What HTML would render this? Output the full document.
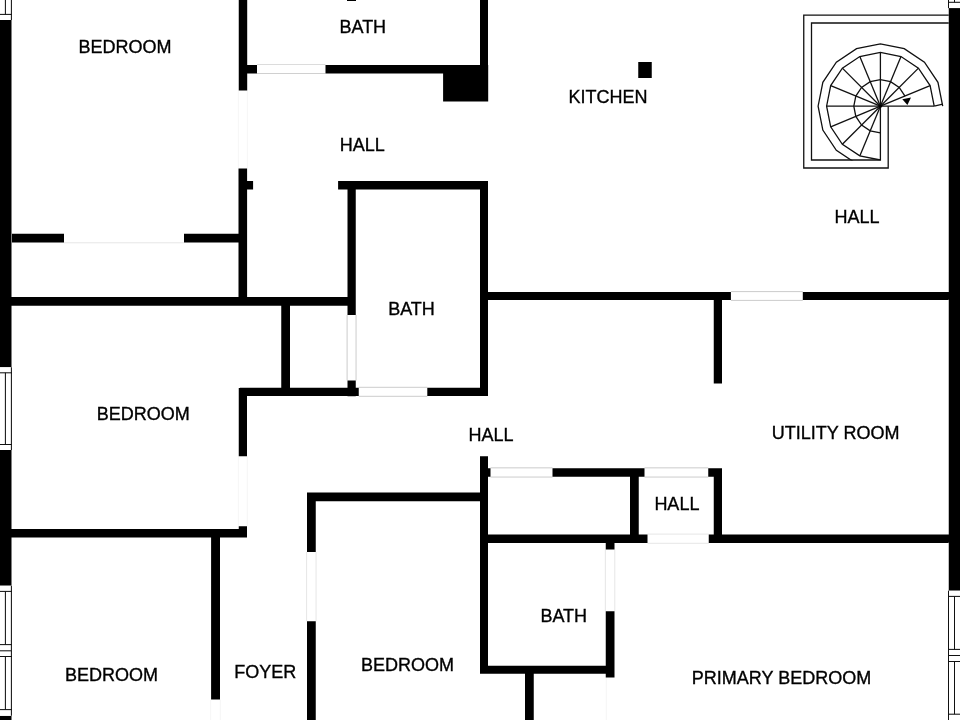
<!DOCTYPE html>
<html><head><meta charset="utf-8"><style>
html,body{margin:0;padding:0;background:#fff;}
svg{display:block;}
text{font-family:"Liberation Sans",sans-serif;font-size:18px;fill:#000;stroke:#000;stroke-width:0.35px;text-anchor:middle;}
.t{filter:url(#nf);}
.g line{stroke-width:1;}
.w{stroke:#111;stroke-width:1.05;}
.s{stroke:#111;stroke-width:1.3;fill:none;}
</style></head><body>
<svg width="960" height="720" viewBox="0 0 960 720">
<defs><filter id="nf" x="0" y="0" width="1" height="1"><feOffset dx="0" dy="0"/></filter><clipPath id="cl"><rect x="800" y="0" width="160" height="160.6"/></clipPath></defs>
<rect width="960" height="720" fill="#fff"/>
<g class="g">
<line x1="257" y1="64.5" x2="325.5" y2="64.5" stroke="#dcdcdc"/>
<line x1="257" y1="73.5" x2="325.5" y2="73.5" stroke="#d0d0d0"/>
<line x1="238.35" y1="90.4" x2="238.35" y2="168.4" stroke="#f6f6f6"/>
<line x1="247.4" y1="90.4" x2="247.4" y2="168.4" stroke="#f6f6f6"/>
<line x1="64" y1="242.8" x2="184" y2="242.8" stroke="#e6e6e6"/>
<line x1="347.1" y1="315" x2="347.1" y2="380.5" stroke="#cccccc"/>
<line x1="356.05" y1="315" x2="356.05" y2="380.5" stroke="#cccccc"/>
<line x1="358.75" y1="387.3" x2="427.3" y2="387.3" stroke="#cccccc"/>
<line x1="358.75" y1="396.3" x2="427.3" y2="396.3" stroke="#cccccc"/>
<line x1="730.9" y1="291.6" x2="802.8" y2="291.6" stroke="#cccccc"/>
<line x1="730.9" y1="300.4" x2="802.8" y2="300.4" stroke="#cccccc"/>
<line x1="238.35" y1="456.25" x2="238.35" y2="526" stroke="#f6f6f6"/>
<line x1="247.3" y1="456.25" x2="247.3" y2="526" stroke="#f6f6f6"/>
<line x1="306.6" y1="552" x2="306.6" y2="621.25" stroke="#e6e6e6"/>
<line x1="316.05" y1="552" x2="316.05" y2="621.25" stroke="#e6e6e6"/>
<line x1="490.5" y1="467.85" x2="552.5" y2="467.85" stroke="#cccccc"/>
<line x1="490.5" y1="477.05" x2="552.5" y2="477.05" stroke="#cccccc"/>
<line x1="644.5" y1="467.85" x2="708.25" y2="467.85" stroke="#cccccc"/>
<line x1="644.5" y1="477.05" x2="708.25" y2="477.05" stroke="#cccccc"/>
<line x1="647.5" y1="534.1" x2="708.75" y2="534.1" stroke="#e6e6e6"/>
<line x1="647.5" y1="543.3" x2="708.75" y2="543.3" stroke="#e6e6e6"/>
<line x1="605.35" y1="549.5" x2="605.35" y2="611.25" stroke="#e6e6e6"/>
<line x1="614.8" y1="549.5" x2="614.8" y2="611.25" stroke="#e6e6e6"/>
<line x1="606.3" y1="677.5" x2="606.3" y2="720" stroke="#f6f6f6"/>
<line x1="210.7" y1="699.6" x2="210.7" y2="720" stroke="#f6f6f6"/>
<line x1="220.3" y1="699.6" x2="220.3" y2="720" stroke="#f6f6f6"/>
</g>
<g fill="#000">
<path d="M0 20H11.5V367.3H0Z M0 450H11.5V585.7H0Z M0 715.8H11.5V720H0Z M948.75 8.1H960V590.7H948.75Z M238.75 0H247.2V90.4H238.75Z M238.75 65H257V73.4H238.75Z M325.5 65H488V73.4H325.5Z M480 0H488V101.5H480Z M443.1 65H488.2V101.6H443.1Z M638.25 62H651.75V78H638.25Z M347 0H356V1H347Z M238.5 168.4H247.1V305.75H238.5Z M247.1 180.9H253.1V189.6H247.1Z M12 233.75H64V242.5H12Z M184 233.75H247.1V242.5H184Z M0 297H355.75V305.75H0Z M338.1 180.9H488V189.4H338.1Z M347.5 181H355.75V315H347.5Z M347.5 380.5H355.75V396.25H347.5Z M480 181H488V395H480Z M240 387.7H358.75V396H240Z M427.3 387.7H488V396H427.3Z M281.25 305H290V388.75H281.25Z M488 292H730.9V300.1H488Z M802.8 292H948.75V300.1H802.8Z M713.75 292H722V383.4H713.75Z M238.75 388H247V456.25H238.75Z M238.75 526.2H247V537.5H238.75Z M11 529.1H247V537.5H11Z M211.1 537H220V699.6H211.1Z M307 492.5H315.75V552H307Z M307 621.25H315.75V720H307Z M307 492.5H488V501.25H307Z M480 456.25H488V673.75H480Z M480 468.25H490.5V476.75H480Z M552.5 468.25H644.5V476.75H552.5Z M708.25 468.25H722V476.75H708.25Z M630 468.25H638.75V543H630Z M713.75 468.25H722V543H713.75Z M480 534.5H647.5V543H480Z M708.75 534.5H948.75V543H708.75Z M605.75 543H614.5V549.5H605.75Z M605.75 611.25H614.5V677.5H605.75Z M480 665.75H614.5V673.75H480Z M525 673.75H533.75V720H525Z"/>
</g>
<rect x="0" y="0" width="11.5" height="20" fill="#fff"/>
<rect x="0" y="367.3" width="11.5" height="82.7" fill="#fff"/>
<rect x="0" y="585.7" width="11.5" height="65.1" fill="#fff"/>
<rect x="0" y="650.8" width="11.5" height="65.0" fill="#fff"/>
<rect x="948.75" y="0" width="11.25" height="8.1" fill="#fff"/>
<rect x="948.75" y="590.7" width="11.25" height="64.8" fill="#fff"/>
<rect x="948.75" y="655.5" width="11.25" height="64.5" fill="#fff"/>
<line x1="11.4" y1="0" x2="11.4" y2="20" class="w"/>
<line x1="0" y1="14.4" x2="11.9" y2="14.4" class="w"/>
<line x1="5.4" y1="0" x2="5.4" y2="14.4" class="w"/>
<line x1="11.4" y1="367.3" x2="11.4" y2="450" class="w"/>
<line x1="0" y1="372.8" x2="11.9" y2="372.8" class="w"/>
<line x1="0" y1="444.5" x2="11.9" y2="444.5" class="w"/>
<line x1="5.4" y1="372.8" x2="5.4" y2="444.5" class="w"/>
<line x1="11.4" y1="585.7" x2="11.4" y2="650.8" class="w"/>
<line x1="0" y1="591.4" x2="11.9" y2="591.4" class="w"/>
<line x1="0" y1="644.6" x2="11.9" y2="644.6" class="w"/>
<line x1="5.4" y1="591.4" x2="5.4" y2="644.6" class="w"/>
<line x1="0" y1="650.8" x2="11.9" y2="650.8" class="w"/>
<line x1="11.4" y1="650.8" x2="11.4" y2="715.8" class="w"/>
<line x1="0" y1="656.5" x2="11.9" y2="656.5" class="w"/>
<line x1="0" y1="709.6" x2="11.9" y2="709.6" class="w"/>
<line x1="5.4" y1="656.5" x2="5.4" y2="709.6" class="w"/>
<line x1="948.5" y1="0" x2="948.5" y2="8.1" class="w"/>
<line x1="948" y1="2.3" x2="960" y2="2.3" class="w"/>
<line x1="954.5" y1="0" x2="954.5" y2="2.3" class="w"/>
<line x1="948.5" y1="590.7" x2="948.5" y2="655.5" class="w"/>
<line x1="948" y1="596.4" x2="960" y2="596.4" class="w"/>
<line x1="948" y1="649.4" x2="960" y2="649.4" class="w"/>
<line x1="954.5" y1="596.4" x2="954.5" y2="649.4" class="w"/>
<line x1="948" y1="655.5" x2="960" y2="655.5" class="w"/>
<line x1="948.5" y1="655.5" x2="948.5" y2="720" class="w"/>
<line x1="948" y1="661.5" x2="960" y2="661.5" class="w"/>
<line x1="948" y1="714.2" x2="960" y2="714.2" class="w"/>
<line x1="954.5" y1="661.5" x2="954.5" y2="714.2" class="w"/>
<polyline points="948.75,15.2 803.75,15.2 803.75,168 888.2,168 888.2,106.2" class="s"/>
<polyline points="948.75,23 811.5,23 811.5,160 880.4,160 880.4,106.2" class="s"/>
<line x1="880.4" y1="106.2" x2="934.20" y2="106.20" class="s"/>
<line x1="880.4" y1="106.2" x2="930.10" y2="85.61" class="s"/>
<line x1="880.4" y1="106.2" x2="918.44" y2="68.16" class="s"/>
<line x1="880.4" y1="106.2" x2="900.99" y2="56.50" class="s"/>
<line x1="880.4" y1="106.2" x2="880.40" y2="52.40" class="s"/>
<line x1="880.4" y1="106.2" x2="859.81" y2="56.50" class="s"/>
<line x1="880.4" y1="106.2" x2="842.36" y2="68.16" class="s"/>
<line x1="880.4" y1="106.2" x2="830.70" y2="85.61" class="s"/>
<line x1="880.4" y1="106.2" x2="826.60" y2="106.20" class="s"/>
<line x1="880.4" y1="106.2" x2="830.70" y2="126.79" class="s"/>
<line x1="880.4" y1="106.2" x2="842.36" y2="144.24" class="s"/>
<line x1="880.4" y1="106.2" x2="859.81" y2="155.90" class="s"/>
<polyline clip-path="url(#cl)" points="934.20,106.20 930.10,85.61 918.44,68.16 900.99,56.50 880.40,52.40 859.81,56.50 842.36,68.16 830.70,85.61 826.60,106.20 830.70,126.79 842.36,144.24 859.81,155.90 880.40,160.00" class="s"/>
<polyline clip-path="url(#cl)" points="942.70,106.20 937.96,82.36 924.45,62.15 904.24,48.64 880.40,43.90 856.56,48.64 836.35,62.15 822.84,82.36 818.10,106.20 822.84,130.04 836.35,150.25 856.56,163.76 880.40,168.50" class="s"/>
<line x1="934.20" y1="106.20" x2="942.70" y2="104.20" class="s"/>
<polyline points="904.98,96.02 899.21,87.39 890.58,81.62 880.40,79.60 870.22,81.62 861.59,87.39 855.82,96.02 853.80,106.20 855.82,116.38 861.59,125.01 870.22,130.78 880.40,132.80" class="s"/>
<polygon points="902.3,99.2 911,97.4 907.4,105" fill="#000"/>
<circle cx="880.4" cy="106.2" r="1.6" fill="#000"/>
<g class="t">
<text x="125" y="53">BEDROOM</text>
<text x="362.8" y="32.5">BATH</text>
<text x="362.3" y="151">HALL</text>
<text x="608" y="102.5">KITCHEN</text>
<text x="857.1" y="223">HALL</text>
<text x="411.5" y="315">BATH</text>
<text x="143.25" y="420">BEDROOM</text>
<text x="491" y="441.25">HALL</text>
<text x="835.7" y="439.4" style="font-size:Nonepx">UTILITY ROOM</text>
<text x="676.9" y="510">HALL</text>
<text x="563.75" y="622">BATH</text>
<text x="111.5" y="680.75">BEDROOM</text>
<text x="265.3" y="678.4" style="font-size:Nonepx">FOYER</text>
<text x="407.5" y="670.75">BEDROOM</text>
<text x="781.5" y="683.6">PRIMARY BEDROOM</text>
</g>
</svg>
</body></html>
